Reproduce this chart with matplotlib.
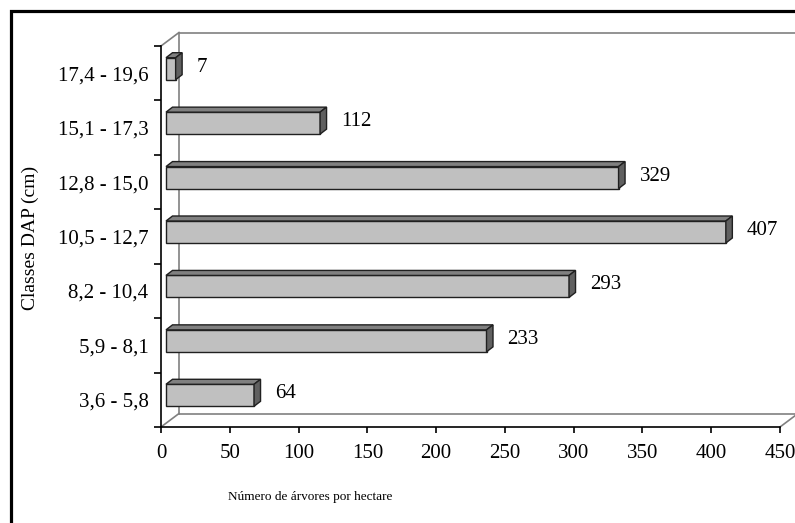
import matplotlib
matplotlib.use('Agg')
import matplotlib.pyplot as plt
from matplotlib.patches import Polygon, Rectangle
from matplotlib.lines import Line2D

plt.rcParams['font.family'] = ['Liberation Serif', 'DejaVu Serif']

classes = ['3,6 - 5,8', '5,9 - 8,1', '8,2 - 10,4', '10,5 - 12,7',
           '12,8 - 15,0', '15,1 - 17,3', '17,4 - 19,6']
arvores = [64, 233, 293, 407, 329, 112, 7]
x_ticks = [0, 50, 100, 150, 200, 250, 300, 350, 400, 450]

W, H = 795, 523
fig = plt.figure(figsize=(W / 100, H / 100), dpi=100)

# plot area (front plane) in pixels
x0, x1 = 161, 780
y0, y1 = 427, 46
ax = fig.add_axes([x0 / W, 1 - y0 / H, (x1 - x0) / W, (y0 - y1) / H])
xmax = 450
ncat = len(classes)
ax.set_xlim(0, xmax)
ax.set_ylim(0, ncat)

# pixel -> data unit helpers
ux = xmax / (x1 - x0)
uy = ncat / (y0 - y1)

# back wall / floor depth
wd_x, wd_y = 18 * ux, 13.5 * uy
grey = '#808080'
for xs, ys in [([0, wd_x], [ncat, ncat + wd_y]),
               ([0, wd_x], [0, wd_y]),
               ([wd_x, wd_x], [wd_y, ncat + wd_y]),
               ([wd_x, xmax + 40], [wd_y, wd_y]),
               ([wd_x, xmax + 40], [ncat + wd_y, ncat + wd_y]),
               ([xmax, xmax + wd_x], [0, wd_y])]:
    ax.add_line(Line2D(xs, ys, color=grey, lw=1.2, clip_on=False, zorder=1))

# 3D bars
off_x, off_y = 5 * ux, 4.5 * uy
bd_x, bd_y = 6.5 * ux, 5 * uy
bh = 22 * uy
centers = [i + 0.5 for i in range(ncat)]
ax.barh([c + off_y for c in centers], arvores, height=bh, left=off_x,
        color='#c0c0c0', edgecolor='#202020', linewidth=1, zorder=3)
for c, v in zip(centers, arvores):
    yb = c + off_y - bh / 2
    yt = c + off_y + bh / 2
    xe = off_x + v
    top = Polygon([(off_x, yt), (xe, yt), (xe + bd_x, yt + bd_y), (off_x + bd_x, yt + bd_y)],
                  closed=True, facecolor='#808080', edgecolor='#202020', lw=1, zorder=3)
    side = Polygon([(xe, yb), (xe + bd_x, yb + bd_y), (xe + bd_x, yt + bd_y), (xe, yt)],
                   closed=True, facecolor='#606060', edgecolor='#202020', lw=1, zorder=3)
    ax.add_patch(top)
    ax.add_patch(side)
    ax.annotate(str(v), (xe, c), xytext=(21, 6), textcoords='offset pixels',
                ha='left', va='center', fontsize=15, zorder=4)

# axes styling
for s in ['top', 'right']:
    ax.spines[s].set_visible(False)
for s in ['left', 'bottom']:
    ax.spines[s].set_color('black')
    ax.spines[s].set_linewidth(1.2)
    ax.spines[s].set_zorder(5)
ax.set_facecolor('none')

ax.set_xticks(x_ticks)
ax.set_xticklabels([str(t) for t in x_ticks])
ax.tick_params(axis='x', direction='out', length=4, width=1.2, pad=8, labelsize=15)

ax.set_yticks(range(ncat + 1))
ax.set_yticklabels([''] * (ncat + 1))
ax.set_yticks(centers, minor=True)
ax.set_yticklabels(classes, minor=True)
ax.tick_params(axis='y', which='major', direction='out', length=5, width=1.2)
ax.tick_params(axis='y', which='minor', length=0, pad=9, labelsize=15)

fig.text(30 / W, 1 - 238 / H, 'Classes DAP (cm)', rotation=90, ha='center', va='center', fontsize=14)
fig.text(310 / W, 1 - 497 / H, 'Número de árvores por hectare', ha='center', va='center', fontsize=9.5)

# outer frame, cut at right/bottom edges
fig.patches.append(Rectangle((11 / W, -0.2), 2.0, 1 - 11 / H + 0.2, transform=fig.transFigure,
                             fill=False, edgecolor='black', linewidth=2.3, zorder=10))

fig.savefig('out.png', dpi=100)
